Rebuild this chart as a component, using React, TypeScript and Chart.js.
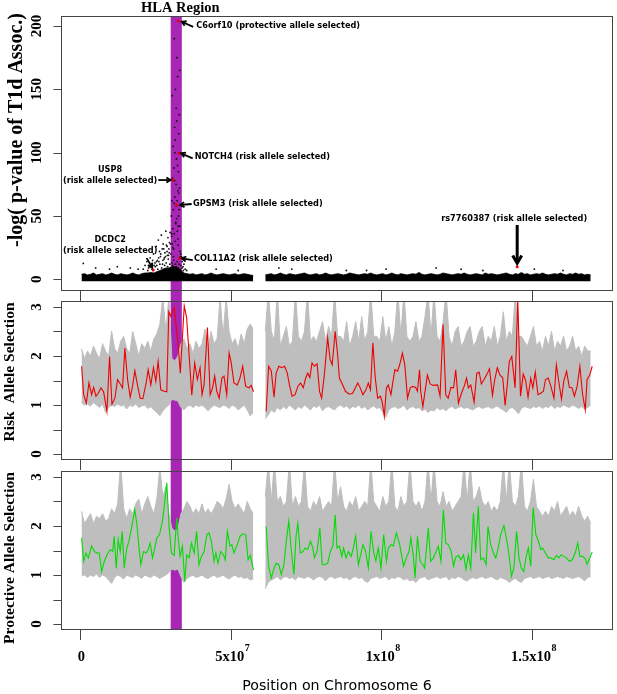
import React, { useEffect, useRef } from "react";
import { Chart, registerables } from "chart.js";
Chart.register(...registerables);

// ---------------- data (positions in Mb on chromosome 6) ----------------
const hlaRegion = [30.1, 33.8];
const xTicks = [0, 50, 100, 150];
const xTickBase = ["0", "5x10", "1x10", "1.5x10"];
const xTickPower = ["", "7", "8", "8"];
const assocTicks = [0, 50, 100, 150, 200];
const assocTickLabels = ["0", "50", "100", "150", "200"];
const selTicks = [0, 0.5, 1, 1.5, 2, 2.5, 3];
const selTickLabels = ["0", "", "1", "", "2", "", "3"];

// window grid (59.5 = centromere gap)
const windowPos = [
  0.5, 1.5, 2.5, 3.5, 4.5, 5.5, 6.5, 7.5, 8.5, 9.5,
  10.5, 11.5, 12.5, 13.5, 14.5, 15.5, 16.5, 17.5, 18.5, 19.5,
  20.5, 21.5, 22.5, 23.5, 24.5, 25.5, 26.5, 27.5, 28.5, 29.5,
  30.5, 31.5, 32.5, 33.5, 34.5, 35.5, 36.5, 37.5, 38.5, 39.5,
  40.5, 41.5, 42.5, 43.5, 44.5, 45.5, 46.5, 47.5, 48.5, 49.5,
  50.5, 51.5, 52.5, 53.5, 54.5, 55.5, 56.5, 57.5,
  59.5,
  61.5, 62.5, 63.5, 64.5, 65.5, 66.5, 67.5, 68.5, 69.5, 70.5,
  71.5, 72.5, 73.5, 74.5, 75.5, 76.5, 77.5, 78.5, 79.5, 80.5,
  81.5, 82.5, 83.5, 84.5, 85.5, 86.5, 87.5, 88.5, 89.5, 90.5,
  91.5, 92.5, 93.5, 94.5, 95.5, 96.5, 97.5, 98.5, 99.5, 100.5,
  101.5, 102.5, 103.5, 104.5, 105.5, 106.5, 107.5, 108.5, 109.5, 110.5,
  111.5, 112.5, 113.5, 114.5, 115.5, 116.5, 117.5, 118.5, 119.5, 120.5,
  121.5, 122.5, 123.5, 124.5, 125.5, 126.5, 127.5, 128.5, 129.5, 130.5,
  131.5, 132.5, 133.5, 134.5, 135.5, 136.5, 137.5, 138.5, 139.5, 140.5,
  141.5, 142.5, 143.5, 144.5, 145.5, 146.5, 147.5, 148.5, 149.5, 150.5,
  151.5, 152.5, 153.5, 154.5, 155.5, 156.5, 157.5, 158.5, 159.5, 160.5,
  161.5, 162.5, 163.5, 164.5, 165.5, 166.5, 167.5, 168.5, 169.5,
];

// -log p : upper edge of the dense band of SNPs
const assocBandTop = [
  4, 4.5, 3.5, 4, 5, 3.5, 4, 4.5, 3.5, 4,
  5, 4, 3.5, 4.5, 4, 3.5, 4, 5, 4, 3.5,
  4.5, 5, 5, 5.5, 5, 6, 7, 8, 9, 9,
  10, 10, 9, 7, 5, 4.5, 4, 4.5, 3.5, 4,
  4.5, 3.5, 4, 5, 4, 3.5, 4, 4.5, 4, 3.5,
  4, 4.5, 3.5, 4, 4.5, 4, 3.5, 3,
  null,
  3.5, 4, 4.5, 3.5, 4, 5, 4, 3.5, 4.5, 4,
  3.5, 4, 4.5, 5, 4, 3.5, 4, 4.5, 3.5, 4,
  5, 4, 3.5, 4, 4.5, 4, 3.5, 4, 5, 4.5,
  4, 3.5, 4, 4.5, 4, 5, 4, 3.5, 4, 4.5,
  3.5, 4, 5, 4, 3.5, 4.5, 4, 3.5, 4, 4.5,
  4, 5.5, 4, 3.5, 4, 4.5, 4, 3.5, 4, 5,
  4.5, 4, 3.5, 4, 4.5, 4, 5, 4, 3.5, 4,
  4.5, 4, 3.5, 5, 4, 4.5, 4, 3.5, 4, 4.5,
  5, 4, 3.5, 4.5, 4, 5.5, 4, 4.5, 3.5, 4,
  4.5, 4, 5, 4, 3.5, 4, 4.5, 4, 5, 4,
  3.5, 4.5, 4, 5, 4, 4.5, 3.5, 4, 3.5,
];

// individual SNPs standing out of the band
const assocPos = [
  1.1, 5.2, 9.8, 12.4, 16.7, 19.3,
  21.0, 21.6, 22.2, 22.8, 23.3, 23.8, 24.4, 24.9, 25.3, 25.7, 26.0, 26.4, 26.7, 27.0, 27.3, 27.6, 27.9, 28.2, 28.5, 28.7, 29.0, 29.2, 29.5, 29.7, 29.9,
  26.2, 27.4, 28.0, 28.9, 29.4, 25.5, 24.1,
  30.2, 30.3, 30.4, 30.5, 30.6, 30.7, 30.8, 30.9, 31.0, 31.1, 31.2, 31.3, 31.4, 31.5, 31.6, 31.7, 31.8, 31.9, 32.0, 32.1, 32.2, 32.3, 32.4, 32.5, 32.6, 32.7, 32.8, 32.9, 33.0, 33.1, 33.2, 33.3,
  33.5, 30.4, 30.8, 31.2, 31.5, 31.9, 32.2, 32.5, 32.8, 33.1, 30.6, 31.0, 31.4, 31.8, 32.1, 32.4, 32.7, 33.0, 31.3, 32.0, 32.6, 31.6,
  33.7, 33.9, 34.2, 34.5, 34.9, 35.4,
  45.2, 52.5, 66.0, 70.3, 88.4, 101.6, 118.2, 133.7, 150.8, 160.3, 126.5, 95.1,
  25.0, 25.4, 25.8, 26.1, 26.5, 26.8, 27.1, 27.5, 27.8, 28.1, 28.4, 28.6, 28.9, 29.1, 29.3, 29.6, 29.8, 30.0,
  30.2, 30.5, 30.8, 31.1, 31.4, 31.7, 32.0, 32.3, 32.6, 32.9, 33.2, 33.5,
  33.9, 34.3, 24.6, 23.9, 23.1, 22.5,
];
const assocVal = [
  12.6, 9, 8, 10, 9, 8,
  8, 11, 14, 9, 17, 12, 20, 13, 26, 15, 31, 22, 18, 35, 24, 28, 16, 21, 38, 27, 19, 33, 24, 29, 37,
  14, 12, 17, 22, 19, 11, 15,
  20, 50, 34, 62, 28, 80, 40, 105, 55, 24, 88, 190, 120, 65, 30, 150, 45, 135, 95, 48, 175, 38, 160, 70, 27, 85, 115, 55, 130, 42, 22, 18,
  20, 36, 25, 60, 100, 75, 62, 32, 68, 165, 145, 18, 78, 44, 125, 90, 50, 72, 36, 58, 42, 110,
  18, 14, 10, 12, 8, 7,
  8, 7, 9, 8, 7, 8, 9, 7, 8, 7, 8, 7,
  10, 14, 8, 17, 12, 20, 9, 15, 24, 11, 18, 13, 26, 10, 16, 21, 12, 28,
  9, 13, 11, 15, 8, 12, 10, 14, 9, 12, 8, 11,
  9, 7, 11, 8, 10, 7,
];

// highlighted SNPs
const snpGene = ["C6orf10", "NOTCH4", "USP8", "GPSM3", "COL11A2", "DCDC2", "rs7760387"];
const snpNote = [
  "(protective allele selected)", "(risk allele selected)", "(risk allele selected)",
  "(risk allele selected)", "(risk allele selected)", "(risk allele selected)", "(risk allele selected)",
];
const snpPos = [32.6, 32.9, 30.9, 32.0, 33.1, 24.3, 145.1];
const snpVal = [204, 99.5, 78.4, 58.7, 16.6, 7.3, 10];

// permutation envelope, risk allele selection
const riskPermLow = [
  1.05, 1.0, 1.02, 0.98, 1.05, 1.0, 0.95, 1.02, 0.85, 0.95,
  1.0, 0.97, 1.02, 0.98, 1.0, 0.92, 1.0, 0.97, 1.02, 0.95,
  0.98, 1.0, 0.93, 0.97, 0.9, 0.85, 0.78, 0.88, 0.95, 1.0,
  1.12, 1.1, 1.08, 0.95, 0.9, 0.97, 1.0, 0.95, 1.0, 0.97,
  1.0, 0.95, 0.88, 0.95, 1.0, 0.97, 0.95, 1.0, 0.98, 0.93,
  1.0, 0.97, 0.9, 0.95, 1.0, 0.9, 0.78, 0.85,
  null,
  0.72, 0.8, 0.9, 0.85, 0.95, 0.9, 0.97, 0.92, 1.0, 0.95,
  0.9, 0.97, 0.93, 1.0, 0.95, 0.9, 0.98, 0.95, 1.0, 0.88,
  0.95, 0.97, 0.93, 0.9, 0.97, 1.0, 0.95, 0.98, 0.92, 0.97,
  0.95, 1.0, 0.93, 0.97, 0.9, 0.95, 0.98, 0.93, 0.95, 0.85,
  0.75, 0.9, 0.95, 0.97, 0.93, 0.95, 1.0, 0.9, 0.95, 0.97,
  0.93, 0.95, 0.88, 0.92, 0.85, 0.9, 0.88, 0.95, 0.9, 0.93,
  0.88, 0.95, 0.97, 0.92, 0.95, 0.97, 0.93, 0.95, 0.92, 0.9,
  0.95, 0.97, 0.93, 0.95, 0.97, 0.93, 0.95, 0.98, 0.93, 0.9,
  0.85, 0.93, 0.95, 0.9, 0.82, 0.93, 0.97, 0.95, 0.93, 0.97,
  0.95, 0.98, 0.93, 0.97, 0.95, 1.0, 0.93, 0.97, 0.95, 1.0,
  0.97, 0.95, 1.0, 0.97, 0.93, 0.97, 0.92, 0.95, 1.0,
];
const riskPermHigh = [
  2.15, 1.95, 2.1, 2.0, 2.2, 2.05, 1.95, 2.25, 2.1, 2.0,
  2.5, 2.15, 2.05, 2.3, 2.4, 2.15, 2.05, 2.5, 2.25, 2.0,
  2.25, 2.15, 2.3, 2.1, 2.35, 2.45, 2.65, 3.2, 2.5, 3.2,
  1.95, 1.9, 2.0, 2.25, 2.35, 2.15, 2.25, 2.05, 2.3, 2.15,
  2.25, 2.55, 2.15, 2.5, 2.25, 2.35, 3.2, 2.4, 3.2, 2.5,
  2.25, 2.35, 2.15, 2.45, 2.25, 2.55, 2.65, 2.55,
  null,
  2.5, 3.3, 2.5, 2.3, 3.3, 2.2, 2.4, 2.6, 2.2, 2.3,
  3.3, 2.4, 2.3, 2.5, 3.3, 2.3, 2.4, 2.3, 2.5, 2.7,
  2.3, 2.6, 2.4, 3.3, 2.4, 2.4, 2.3, 2.7, 2.2, 2.4,
  2.7, 2.3, 2.8, 2.3, 2.5, 3.3, 2.4, 2.4, 2.3, 2.8,
  2.3, 2.6, 2.2, 2.5, 3.3, 2.4, 3.3, 2.4, 2.3, 2.4,
  2.7, 2.3, 2.4, 2.8, 3.3, 2.4, 3.3, 2.4, 2.3, 2.7,
  3.3, 2.4, 2.2, 2.5, 2.6, 2.2, 2.3, 2.5, 2.6, 2.2,
  2.3, 2.5, 2.6, 2.2, 2.4, 2.3, 2.6, 2.2, 2.4, 2.9,
  2.3, 2.5, 2.4, 3.3, 2.4, 2.4, 2.3, 2.2, 2.4, 2.6,
  2.2, 2.3, 2.1, 2.4, 2.2, 2.5, 2.1, 2.3, 2.2, 2.4,
  2.1, 2.2, 2.4, 2.1, 2.2, 2.0, 2.2, 2.1, 2.1,
];

// permutation envelope, protective allele selection
const protPermLow = [
  0.98, 1.0, 0.95, 1.0, 0.97, 1.02, 0.95, 1.0, 0.97, 0.9,
  0.83, 0.95, 1.0, 0.97, 0.92, 1.0, 0.97, 0.95, 1.0, 0.97,
  0.93, 1.0, 0.97, 0.95, 1.0, 0.97, 0.93, 0.97, 1.0, 1.05,
  1.12, 1.1, 1.12, 0.97, 0.85, 0.93, 0.97, 1.0, 0.95, 0.97,
  1.0, 0.95, 0.93, 0.97, 1.0, 0.95, 0.97, 1.0, 0.95, 0.92,
  0.97, 1.0, 0.95, 0.97, 0.93, 0.95, 0.9, 0.92,
  null,
  0.72, 0.85, 0.9, 0.93, 0.97, 0.9, 0.95, 0.97, 0.93, 0.95,
  0.9, 0.97, 0.95, 0.93, 0.97, 0.95, 0.9, 0.95, 0.97, 0.95,
  0.88, 0.95, 0.97, 0.93, 0.95, 0.97, 0.93, 0.95, 0.9, 0.95,
  0.97, 0.93, 0.95, 0.88, 0.85, 0.93, 0.95, 0.97, 0.93, 0.95,
  0.97, 0.9, 0.95, 0.93, 0.97, 0.95, 0.9, 0.93, 0.88, 0.9,
  0.85, 0.93, 0.95, 0.97, 0.9, 0.93, 0.95, 0.97, 0.93, 0.95,
  0.97, 0.9, 0.95, 0.93, 0.97, 0.95, 0.9, 0.88, 0.93, 0.95,
  0.92, 0.95, 0.97, 0.93, 0.95, 0.97, 0.93, 0.9, 0.95, 0.93,
  0.9, 0.85, 0.9, 0.93, 0.88, 0.85, 0.93, 0.95, 0.97, 0.93,
  0.95, 0.97, 0.93, 0.95, 0.97, 0.93, 0.95, 0.97, 0.95, 0.93,
  0.97, 0.95, 0.93, 0.95, 0.97, 0.93, 0.88, 0.95, 0.97,
];
const protPermHigh = [
  2.3, 2.05, 2.15, 2.25, 2.05, 2.2, 2.15, 2.25, 2.1, 2.15,
  2.35, 2.25, 2.45, 3.3, 2.35, 2.15, 2.35, 2.25, 2.45, 2.55,
  2.25, 2.45, 2.6, 2.4, 2.25, 2.55, 3.2, 2.6, 2.8, 2.25,
  1.95, 1.9, 1.95, 2.25, 2.35, 2.5, 2.4, 2.25, 2.35, 2.25,
  2.45, 2.25, 2.35, 2.25, 2.35, 2.5, 2.45, 2.35, 2.55, 2.85,
  2.5, 2.35, 2.45, 2.35, 2.25, 2.5, 2.35, 2.25,
  null,
  2.6, 3.3, 2.5, 3.3, 2.5, 2.6, 2.4, 2.5, 3.3, 2.4,
  2.6, 2.4, 2.5, 3.3, 2.4, 2.3, 2.5, 2.4, 2.6, 2.3,
  2.4, 2.5, 2.4, 3.3, 2.5, 2.8, 2.4, 2.3, 2.5, 2.4,
  2.6, 2.3, 2.4, 2.5, 2.4, 3.3, 2.5, 2.4, 2.3, 2.6,
  2.4, 2.5, 3.3, 2.4, 2.3, 2.6, 2.4, 2.5, 3.3, 2.5,
  2.4, 2.5, 2.3, 2.5, 3.3, 2.5, 3.3, 2.5, 2.4, 2.7,
  2.4, 2.5, 2.3, 2.4, 2.5, 2.6, 3.3, 2.5, 3.3, 2.5,
  2.6, 2.8, 2.5, 2.4, 2.5, 2.3, 2.4, 2.3, 2.5, 3.3,
  2.5, 3.3, 2.5, 2.4, 2.6, 3.3, 2.4, 2.3, 2.5, 2.95,
  2.4, 2.3, 2.2, 2.3, 2.2, 2.4, 2.3, 2.5, 2.2, 2.3,
  2.4, 2.2, 2.3, 2.2, 2.4, 2.2, 2.1, 2.2, 2.05,
];

// observed risk allele selection
const riskPos = [
  0.55, 1.22, 2.1, 2.98, 3.86, 4.53, 5.3, 6.07, 6.95, 7.84, 8.94, 9.82, 10.6, 11.59, 12.47, 13.36, 14.13, 14.9, 15.79, 16.67,
  17.44, 18.21, 19.1, 19.98, 20.86, 21.97, 22.63, 23.51, 24.39, 25.17, 25.94, 26.82, 27.93, 28.81, 29.47, 30.13, 31.24, 32.4, 33.3, 34.6,
  35.4, 37.1, 38.08, 38.96, 39.85, 40.51, 41.17, 42.3, 43.2, 44.0, 44.7, 45.4, 46.2, 47.1, 47.8, 48.7, 49.5, 50.2, 51.1, 52.2,
  53.1, 54.0, 55.0, 56.1, 56.8, 57.6,
  59.5,
  61.8, 62.6, 63.5, 64.4, 65.1, 66.0, 67.0, 67.9, 68.8, 69.5, 70.4, 71.4, 72.3, 73.2, 74.1, 74.9, 75.6, 76.3, 77.0, 77.8,
  78.7, 79.5, 80.2, 81.1, 82.2, 83.0, 83.7, 84.7, 85.5, 86.1, 87.2, 88.1, 89.4, 90.5, 91.4, 92.2, 93.0, 93.9, 94.9, 95.7,
  96.4, 97.2, 98.0, 98.8, 99.7, 100.3, 101.0, 101.7, 102.3, 103.2, 103.8, 104.5, 105.4, 106.1, 107.0, 107.8, 108.7, 109.6, 110.4, 111.4,
  112.0, 112.7, 113.1, 113.8, 115.3, 116.2, 117.3, 118.7, 119.5, 120.5, 121.4, 122.2, 123.1, 124.0, 124.7, 125.6, 126.6, 127.5, 128.3, 128.9,
  129.7, 130.8, 131.7, 132.5, 133.2, 134.1, 135.0, 135.9, 136.9, 137.6, 138.5, 139.4, 140.3, 141.1, 141.8, 142.5, 143.3, 144.4, 145.3, 146.2,
  147.1, 147.9, 148.7, 149.6, 150.3, 151.1, 152.0, 152.9, 153.8, 154.5, 155.4, 156.3, 157.3, 158.1, 158.9, 159.8, 160.6, 161.5, 162.4, 163.3,
  164.1, 165.0, 165.9, 166.8, 167.7, 168.3, 169.2, 170.0,
];
const riskVal = [
  1.79, 1.21, 1.04, 1.45, 1.21, 1.36, 1.18, 1.24, 1.35, 1.27, 0.87, 1.99, 1.02, 1.14, 1.52, 1.43, 1.35, 2.16, 1.52, 1.16,
  1.38, 1.7, 1.4, 1.14, 1.13, 1.45, 1.72, 1.41, 1.76, 1.48, 1.89, 1.31, 1.28, 1.27, 2.9, 2.81, 2.99, 2.35, 1.65, 3.02,
  2.78, 1.2, 1.86, 1.52, 1.76, 1.21, 1.41, 2.58, 1.21, 1.35, 1.59, 1.28, 1.14, 1.55, 1.59, 1.21, 2.06, 1.86, 1.45, 1.41,
  1.55, 1.79, 1.38, 1.35, 1.4, 1.27,
  null,
  0.87, 1.79, 1.69, 1.16, 1.65, 1.79, 1.76, 1.79, 1.65, 1.41, 1.18, 1.21, 1.38, 1.45, 1.35, 1.55, 1.65, 1.56, 1.86, 1.79,
  1.84, 1.28, 1.14, 1.62, 2.37, 1.93, 1.82, 2.5, 2.03, 1.55, 1.41, 1.28, 1.22, 1.24, 1.35, 1.45, 1.35, 1.21, 1.31, 1.45,
  1.31, 2.27, 1.55, 1.14, 1.18, 1.07, 0.77, 1.35, 1.41, 1.21, 1.45, 1.72, 1.69, 1.82, 2.06, 1.82, 1.14, 1.35, 1.38, 1.36,
  1.28, 1.72, 1.27, 0.97, 1.61, 1.43, 1.4, 1.41, 1.18, 2.64, 1.21, 1.14, 1.36, 1.35, 1.72, 1.04, 1.24, 1.38, 1.55, 1.35,
  1.41, 1.06, 1.65, 1.67, 1.43, 1.52, 1.62, 1.74, 1.2, 1.5, 1.76, 1.61, 1.56, 0.99, 1.41, 1.89, 1.99, 1.35, 3.15, 1.18,
  1.63, 1.5, 1.16, 1.55, 1.35, 1.67, 1.21, 1.24, 1.28, 1.52, 1.55, 1.38, 1.14, 1.82, 1.48, 1.12, 1.5, 1.69, 1.36, 1.35,
  1.18, 1.38, 1.79, 1.22, 0.9, 1.52, 1.61, 1.79,
];

// observed protective allele selection
const protPos = [
  0.55, 1.22, 2.0, 2.76, 3.86, 4.75, 5.63, 6.4, 7.18, 8.06, 8.94, 10.04, 10.82, 11.37, 12.03, 12.69, 13.36, 14.02, 14.68, 15.45,
  16.34, 17.11, 18.21, 18.88, 19.65, 20.2, 21.08, 21.97, 22.63, 23.29, 24.06, 24.84, 25.5, 26.38, 27.37, 28.15, 28.81, 29.58, 30.35, 31.24,
  32.12, 32.56, 33.22, 34.0, 34.77, 35.43, 36.2, 37.0, 37.9, 38.7, 39.5, 40.3, 41.2, 42.1, 42.8, 43.6, 44.5, 45.1, 45.8, 46.7,
  47.6, 48.2, 48.9, 49.8, 50.4, 51.1, 52.2, 53.1, 54.0, 55.0, 55.8, 56.5, 57.6,
  59.5,
  61.8, 62.6, 63.5, 64.4, 65.1, 66.0, 66.8, 67.7, 68.4, 69.3, 70.1, 71.0, 71.7, 72.3, 73.1, 74.0, 74.7, 75.6, 76.5, 77.3,
  77.8, 78.7, 79.6, 80.4, 81.1, 82.2, 83.1, 83.9, 84.7, 85.3, 86.1, 86.9, 87.5, 88.3, 89.1, 90.0, 90.6, 91.5, 92.4, 93.3,
  93.9, 94.8, 95.7, 96.6, 97.5, 98.2, 99.0, 99.9, 100.8, 101.7, 102.3, 103.2, 104.0, 105.0, 106.0, 106.7, 107.4, 108.3, 109.2, 109.8,
  110.6, 111.2, 112.0, 112.9, 113.8, 114.4, 115.6, 116.4, 117.3, 118.2, 118.9, 119.8, 120.6, 121.4, 122.2, 123.1, 124.0, 124.7, 125.6, 126.4,
  127.3, 128.1, 128.9, 129.7, 130.6, 131.3, 132.2, 133.0, 133.9, 134.8, 135.4, 136.3, 137.2, 138.0, 138.7, 139.6, 140.7, 141.6, 142.4, 143.2,
  144.0, 144.9, 145.7, 146.5, 147.3, 148.0, 148.8, 149.6, 150.4, 151.3, 152.0, 152.9, 153.5, 154.5, 155.4, 156.2, 157.3, 158.1, 158.9, 159.7,
  160.6, 161.5, 162.4, 163.4, 164.5, 165.2, 165.9, 166.8, 167.7, 168.3, 169.2, 170.0,
];
const protVal = [
  1.76, 1.28, 1.45, 1.35, 1.59, 1.48, 1.45, 1.45, 1.07, 1.28, 1.41, 1.52, 1.48, 1.79, 1.14, 1.72, 1.48, 1.89, 1.14, 1.52,
  1.72, 1.96, 2.33, 2.03, 1.52, 1.21, 1.48, 1.45, 1.52, 1.65, 1.35, 1.55, 1.76, 1.82, 2.1, 2.5, 2.88, 1.99, 1.45, 1.4,
  2.16, 1.79, 1.38, 1.59, 0.87, 1.41, 1.35, 1.65, 1.45, 1.89, 1.21, 1.38, 1.48, 1.82, 1.86, 1.69, 1.28, 1.45, 1.24, 1.48,
  1.41, 1.31, 1.89, 1.59, 1.62, 1.45, 1.62, 1.79, 1.84, 1.82, 1.31, 1.4, 1.1,
  null,
  1.99, 1.18, 0.94, 1.14, 1.24, 1.21, 1.01, 1.21, 1.65, 2.1, 1.52, 1.01, 1.79, 2.06, 1.45, 1.48, 1.55, 1.52, 1.69, 1.55,
  1.35, 1.48, 1.96, 1.21, 1.21, 1.24, 1.48, 1.59, 2.23, 1.55, 1.59, 1.38, 1.55, 1.35, 1.48, 1.38, 1.52, 1.79, 1.21, 1.45,
  1.62, 1.48, 1.14, 1.89, 1.45, 1.29, 1.55, 1.14, 1.82, 1.28, 1.55, 1.62, 1.59, 1.86, 1.65, 1.41, 1.18, 1.35, 1.48, 1.76,
  1.41, 0.94, 1.79, 1.28, 1.21, 1.14, 1.96, 1.28, 1.35, 1.48, 1.59, 1.28, 2.33, 1.65, 1.62, 1.5, 1.18, 1.36, 1.4, 1.31,
  1.41, 1.11, 1.41, 1.14, 2.27, 1.45, 2.4, 1.31, 1.35, 1.21, 1.99, 1.62, 1.45, 1.35, 1.52, 1.82, 2.01, 1.72, 1.41, 0.97,
  1.14, 1.89, 1.35, 1.14, 1.07, 1.35, 1.55, 1.18, 2.37, 1.82, 1.72, 1.52, 1.55, 1.45, 1.35, 1.35, 1.31, 1.4, 1.35, 1.41,
  1.38, 1.35, 1.28, 1.31, 1.48, 1.65, 1.38, 1.38, 1.33, 1.22, 1.35, 1.47,
];

// ---------------- styling / geometry ----------------
const W = 617;
const X_MIN = -6.3;
const X_MAX = 176.9;
const PURPLE = "#A826B4";
const GRAY = "#BEBEBE";
const RED = "#EE0000";
const GREEN = "#00DD00";
const AXIS = "#444444";
const serifBold = (s: number) => `bold ${s}px "Liberation Serif", "DejaVu Serif", serif`;
const sansBold = (s: number) => `bold ${s}px "DejaVu Sans", sans-serif`;
const sans = (s: number) => `${s}px "DejaVu Sans", sans-serif`;

const xy = (xs: number[], ys: (number | null)[]) => xs.map((x, i) => ({ x, y: ys[i] }));

type BandMode = "top" | "mid" | "bottom";

function bandPlugin(mode: BandMode) {
  return {
    id: "hlaBand",
    beforeDatasetsDraw(chart: any) {
      const { ctx, chartArea: a, scales, height } = chart;
      const x0 = scales.x.getPixelForValue(hlaRegion[0]);
      const x1 = scales.x.getPixelForValue(hlaRegion[1]);
      const top = mode === "top" ? a.top : 0;
      const bottom = mode === "bottom" ? a.bottom : height;
      ctx.save();
      ctx.fillStyle = PURPLE;
      ctx.fillRect(x0, top, x1 - x0, bottom - top);
      ctx.restore();
    },
  };
}

type AxesSpec = {
  yTicks: number[];
  yLabels: string[];
  xTickLen: number;
  xLabels: boolean;
  title: string;
  titleSize: number;
  titleX: number;
  titleY: number;
};

function axesPlugin(spec: AxesSpec) {
  return {
    id: "rAxes",
    afterDraw(chart: any) {
      const { ctx, chartArea: a, scales } = chart;
      const xs = scales.x;
      const ys = scales.y;
      ctx.save();
      ctx.strokeStyle = AXIS;
      ctx.lineWidth = 1;
      ctx.strokeRect(a.left + 0.5, a.top + 0.5, a.right - a.left - 1, a.bottom - a.top - 1);
      ctx.beginPath();
      spec.yTicks.forEach((v) => {
        const y = Math.round(ys.getPixelForValue(v)) + 0.5;
        ctx.moveTo(a.left - 7.5, y);
        ctx.lineTo(a.left, y);
      });
      xTicks.forEach((v) => {
        const x = Math.round(xs.getPixelForValue(v)) + 0.5;
        ctx.moveTo(x, a.bottom);
        ctx.lineTo(x, a.bottom + spec.xTickLen);
      });
      ctx.stroke();

      ctx.fillStyle = "#000";
      ctx.textAlign = "center";
      ctx.textBaseline = "middle";
      ctx.font = serifBold(15);
      spec.yTicks.forEach((v, i) => {
        const lab = spec.yLabels[i];
        if (!lab) return;
        const y = ys.getPixelForValue(v);
        ctx.save();
        ctx.translate(37.5, y);
        ctx.rotate(-Math.PI / 2);
        ctx.fillText(lab, 0, 0);
        ctx.restore();
      });

      if (spec.xLabels) {
        const ly = a.bottom + 27;
        xTicks.forEach((v, i) => {
          const x = xs.getPixelForValue(v);
          ctx.font = serifBold(14.5);
          const wb = ctx.measureText(xTickBase[i]).width;
          ctx.font = serifBold(10);
          const wp = xTickPower[i] ? ctx.measureText(xTickPower[i]).width : 0;
          const start = x + 1.5 - (wb + wp) / 2;
          ctx.textAlign = "left";
          ctx.font = serifBold(14.5);
          ctx.fillText(xTickBase[i], start, ly);
          if (xTickPower[i]) {
            ctx.font = serifBold(10);
            ctx.fillText(xTickPower[i], start + wb + 0.5, ly - 9);
          }
        });
        ctx.textAlign = "center";
        ctx.font = sans(14.2);
        ctx.fillText("Position on Chromosome 6", (a.left + a.right) / 2, a.bottom + 56);
      }

      ctx.font = serifBold(spec.titleSize);
      ctx.textAlign = "center";
      ctx.save();
      ctx.translate(spec.titleX, spec.titleY);
      ctx.rotate(-Math.PI / 2);
      ctx.fillText(spec.title, 0, 0);
      ctx.restore();
      ctx.restore();
    },
  };
}

// annotation layout, pixel offsets from each highlighted SNP
const annoLayout = [
  { head: [3.5, 0.8], tail: [15, 6], text: [18, 4.8], two: false, big: false },
  { head: [2, 0], tail: [13.6, 5], text: [15.6, 4], two: false, big: false },
  { head: [-2.4, 0], tail: [-14.8, 0], text: [-63, -10], two: true, big: false },
  { head: [3.6, 0], tail: [15.3, -1], text: [16.6, -1], two: false, big: false },
  { head: [2, 0], tail: [13, 1.7], text: [14.3, 1], two: false, big: false },
  { head: [-1, -2.5], tail: [-6.5, -12], text: [-43, -30], two: true, big: false },
  { head: [0, -3.5], tail: [0, -41.7], text: [-3, -47.7], two: false, big: true },
];

function drawArrow(ctx: CanvasRenderingContext2D, x0: number, y0: number, x1: number, y1: number, head: number, lw: number) {
  const ang = Math.atan2(y1 - y0, x1 - x0);
  ctx.lineWidth = lw;
  ctx.beginPath();
  ctx.moveTo(x0, y0);
  ctx.lineTo(x1, y1);
  ctx.stroke();
  ctx.beginPath();
  ctx.moveTo(x1 - head * Math.cos(ang - Math.PI / 6), y1 - head * Math.sin(ang - Math.PI / 6));
  ctx.lineTo(x1, y1);
  ctx.lineTo(x1 - head * Math.cos(ang + Math.PI / 6), y1 - head * Math.sin(ang + Math.PI / 6));
  ctx.stroke();
}

const annotationPlugin = {
  id: "snpNotes",
  afterDatasetsDraw(chart: any) {
    const { ctx, scales } = chart;
    ctx.save();
    ctx.strokeStyle = "#000";
    ctx.fillStyle = "#000";
    ctx.lineCap = "butt";
    ctx.lineJoin = "miter";
    ctx.font = sansBold(8.2);
    ctx.textBaseline = "middle";
    snpPos.forEach((p, i) => {
      const L = annoLayout[i];
      const px = scales.x.getPixelForValue(p);
      const py = scales.y.getPixelForValue(snpVal[i]);
      drawArrow(ctx, px + L.tail[0], py + L.tail[1], px + L.head[0], py + L.head[1], L.big ? 9 : 5, L.big ? 3 : 1.8);
      if (L.two) {
        ctx.textAlign = "center";
        ctx.fillText(snpGene[i], px + L.text[0], py + L.text[1]);
        ctx.fillText(snpNote[i], px + L.text[0], py + L.text[1] + 10.7);
      } else {
        ctx.textAlign = L.big ? "center" : "left";
        ctx.fillText(snpGene[i] + " " + snpNote[i], px + L.text[0], py + L.text[1]);
      }
    });
    const cx = (scales.x.getPixelForValue(hlaRegion[0]) + scales.x.getPixelForValue(hlaRegion[1])) / 2;
    ctx.font = serifBold(14.5);
    ctx.textAlign = "center";
    ctx.fillText("HLA Region", cx + 4, 8);
    ctx.restore();
  },
};

function baseOptions(yMin: number, yMax: number, padding: any) {
  return {
    responsive: false,
    maintainAspectRatio: false,
    animation: false,
    devicePixelRatio: 1,
    events: [],
    layout: { padding },
    plugins: { legend: { display: false }, tooltip: { enabled: false }, title: { display: false } },
    scales: {
      x: { type: "linear", min: X_MIN, max: X_MAX, display: false },
      y: { type: "linear", min: yMin, max: yMax, display: false },
    },
    elements: { line: { tension: 0 } },
  };
}

function assocConfig(): any {
  return {
    type: "line",
    data: {
      datasets: [
        {
          type: "scatter",
          data: xy(snpPos, snpVal),
          pointRadius: 1.5,
          pointBackgroundColor: RED,
          pointBorderWidth: 0,
          order: 0,
          clip: 0,
        },
        {
          type: "scatter",
          data: xy(assocPos, assocVal),
          pointRadius: 0.9,
          pointBackgroundColor: "#111",
          pointBorderWidth: 0,
          order: 1,
          clip: 0,
        },
        {
          type: "line",
          data: xy(windowPos, assocBandTop),
          borderWidth: 0.8,
          borderColor: "#000",
          backgroundColor: "#000",
          fill: { value: -1.5 },
          pointRadius: 0,
          spanGaps: false,
          order: 2,
          clip: 0,
        },
      ],
    },
    options: baseOptions(-9.2, 207.9, { left: 61, right: W - 613, top: 16, bottom: 10 }),
    plugins: [
      bandPlugin("top"),
      annotationPlugin,
      axesPlugin({
        yTicks: assocTicks,
        yLabels: assocTickLabels,
        xTickLen: 10,
        xLabels: false,
        title: "-log( p-value of T1d Assoc.)",
        titleSize: 20,
        titleX: 17,
        titleY: 130,
      }),
    ],
  };
}

function selectionConfig(low: (number | null)[], high: (number | null)[], pos: number[], val: (number | null)[], color: string, mode: BandMode, padding: any, title: string, titleY: number, xLabels: boolean): any {
  return {
    type: "line",
    data: {
      datasets: [
        {
          data: xy(windowPos, low),
          borderColor: GRAY,
          borderWidth: 1,
          pointRadius: 0,
          fill: false,
          spanGaps: false,
          order: 2,
          clip: 0,
        },
        {
          data: xy(windowPos, high),
          borderColor: GRAY,
          borderWidth: 1,
          backgroundColor: GRAY,
          pointRadius: 0,
          fill: "-1",
          spanGaps: false,
          order: 1,
          clip: 0,
        },
        {
          data: xy(pos, val),
          borderColor: color,
          borderWidth: 1.1,
          pointRadius: 0,
          fill: false,
          spanGaps: false,
          order: 0,
          clip: 0,
        },
      ],
    },
    options: baseOptions(-0.12, 3.12, padding),
    plugins: [
      bandPlugin(mode),
      axesPlugin({
        yTicks: selTicks,
        yLabels: selTickLabels,
        xTickLen: 10,
        xLabels,
        title,
        titleSize: 15.5,
        titleX: 9.5,
        titleY,
      }),
    ],
  };
}

function Panel({ top, height, build }: { top: number; height: number; build: () => any }) {
  const ref = useRef<HTMLCanvasElement>(null);
  useEffect(() => {
    const chart = new Chart(ref.current as HTMLCanvasElement, build());
    return () => chart.destroy();
  }, []);
  return (
    <canvas
      ref={ref}
      width={W}
      height={height}
      style={{ position: "absolute", left: 0, top, width: W, height, display: "block" }}
    />
  );
}

export default function App() {
  return (
    <div style={{ position: "absolute", left: 0, top: 0, width: W, height: 694, background: "#fff", overflow: "hidden" }}>
      <Panel top={0} height={301} build={assocConfig} />
      <Panel
        top={301}
        height={170}
        build={() =>
          selectionConfig(riskPermLow, riskPermHigh, riskPos, riskVal, RED, "mid",
            { left: 61, right: W - 613, top: 0, bottom: 11 }, "Risk  Allele Selection", 71, false)
        }
      />
      <Panel
        top={471}
        height={223}
        build={() =>
          selectionConfig(protPermLow, protPermHigh, protPos, protVal, GREEN, "bottom",
            { left: 61, right: W - 613, top: 0, bottom: 64 }, "Protective Allele Selection", 87, true)
        }
      />
    </div>
  );
}
